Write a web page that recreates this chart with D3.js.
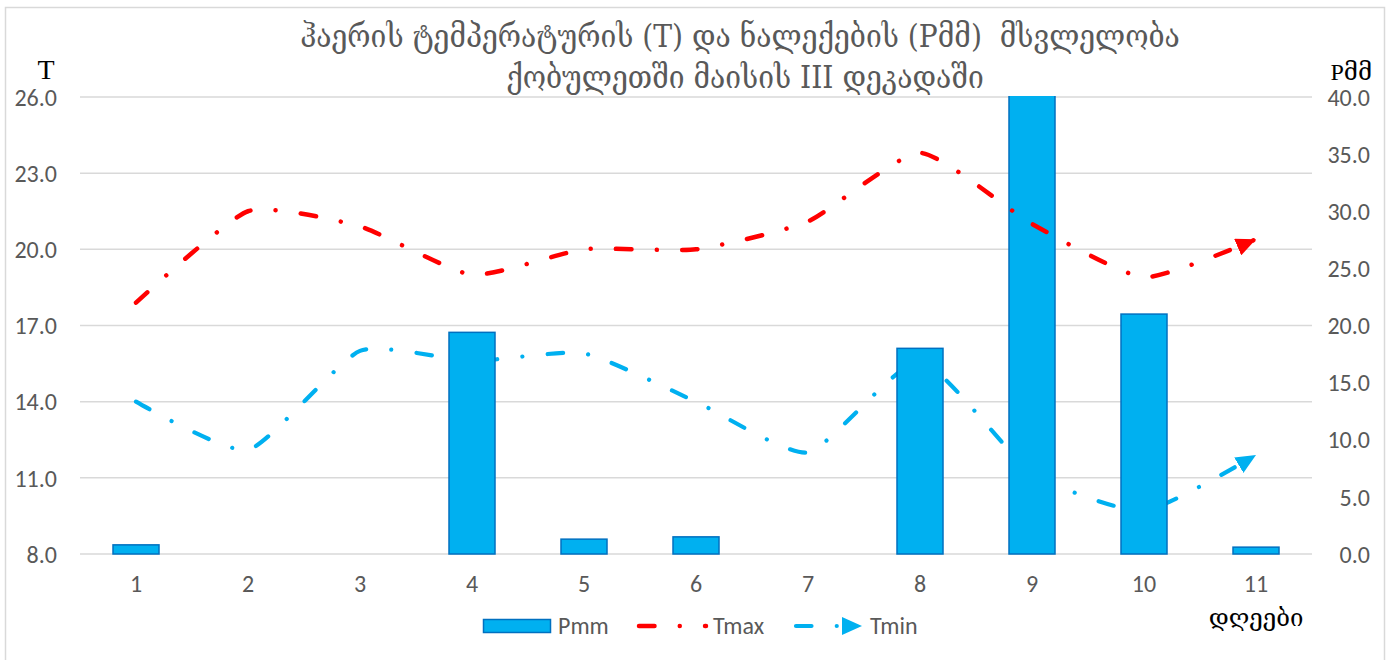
<html>
<head>
	<meta charset="utf-8">
	<title>Tmax Tmin Pmm</title>
	<style>
		body { margin: 0; background: #ffffff; }
		.tick text { font-family: Carlito, 'Open Sans', sans-serif; fill: #595959; }
	</style>
</head>
<body>
<div id="chart"></div>

<script src="https://d3js.org/d3.v7.min.js"></script>
<script>

	//data
	var days = ['1','2','3','4','5','6','7','8','9','10','11'];
	var pmm = [0.8, 0, 0, 19.4, 1.3, 1.5, 0, 18.0, 44, 21.0, 0.6];
	var tmax = [17.9, 21.5, 20.9, 19.0, 20.0, 20.0, 21.1, 23.8, 21.0, 18.9, 20.4];
	var tmin = [14.0, 12.1, 16.0, 15.6, 15.9, 14.0, 12.0, 15.6, 11.2, 9.7, 11.9];
	var tTicks = [8, 11, 14, 17, 20, 23, 26];
	var pTicks = [0, 5, 10, 15, 20, 25, 30, 35, 40];
	var titleLines = ['ჰაერის ტემპერატურის (T) და ნალექების (Pმმ)  მსვლელობა', 'ქობულეთში მაისის III დეკადაში'];

	//display variables
	var width = 1391;
	var height = 660;
	var plotL = 80, plotR = 1312, plotT = 97, plotB = 554;
	var red = '#ff0000', blue = '#00b0f0';
	var dash = '15.5 25.25 0.01 25.25';
	var tickSize = 24;

	var svg = d3.select('#chart').append('svg')
		.attr('width', width)
		.attr('height', height);

	//chart frame
	svg.append('rect')
		.attr('x', 5.5).attr('y', 7.5)
		.attr('width', 1379).attr('height', 660)
		.attr('fill', 'white')
		.attr('stroke', '#d9d9d9').attr('stroke-width', 1.5);

	var x = d3.scaleBand().domain(days).range([plotL, plotR]);
	var yT = d3.scaleLinear().domain([8, 26]).range([plotB, plotT]);
	var yP = d3.scaleLinear().domain([0, 40]).range([plotB, plotT]);

	//gridlines
	svg.append('g').selectAll('line')
		.data(tTicks)
		.enter().append('line')
		.attr('x1', plotL).attr('x2', plotR)
		.attr('y1', function(d){ return yT(d); })
		.attr('y2', function(d){ return yT(d); })
		.attr('stroke', '#d9d9d9').attr('stroke-width', 1.5);

	//left axis
	var axL = svg.append('g')
		.attr('transform', 'translate(' + (plotL - 23) + ',0)')
		.call(d3.axisLeft(yT).tickValues(tTicks).tickSize(0).tickPadding(0).tickFormat(d3.format('.1f')));
	axL.select('.domain').remove();
	axL.selectAll('text').attr('font-size', tickSize).attr('dy', '0.34em');

	//right axis, labels end at 1370
	var axR = svg.append('g')
		.attr('transform', 'translate(1370,0)')
		.call(d3.axisRight(yP).tickValues(pTicks).tickSize(0).tickPadding(0).tickFormat(d3.format('.1f')));
	axR.select('.domain').remove();
	axR.selectAll('text').attr('font-size', tickSize).attr('text-anchor', 'end').attr('dy', '0.34em');

	//bottom axis
	var axB = svg.append('g')
		.attr('transform', 'translate(0,' + plotB + ')')
		.call(d3.axisBottom(x).tickSize(0).tickPadding(24));
	axB.select('.domain').remove();
	axB.selectAll('text').attr('font-size', tickSize).attr('dy', '0.6em');

	//clip for the plot area
	svg.append('clipPath').attr('id', 'plot')
		.append('rect').attr('x', plotL).attr('y', plotT - 1).attr('width', plotR - plotL).attr('height', plotB - plotT + 2);

	//arrow markers
	function arrow(id, color){
		svg.append('defs').append('marker')
			.attr('id', id)
			.attr('viewBox', '0 0 20 18')
			.attr('refX', 20).attr('refY', 9)
			.attr('markerWidth', 20).attr('markerHeight', 18)
			.attr('markerUnits', 'userSpaceOnUse')
			.attr('orient', 'auto')
			.append('path')
			.attr('d', 'M0,0 L20,9 L0,18 Z')
			.attr('fill', color);
	}
	arrow('arrRed', red);
	arrow('arrBlue', blue);

	var line = d3.line()
		.x(function(d, i){ return x(days[i]) + x.bandwidth() / 2; })
		.curve(d3.curveCardinal.tension(0.45));

	//Tmin sits behind the bars
	svg.append('path')
		.datum(tmin)
		.attr('d', line.y(function(d){ return yT(d); }))
		.attr('fill', 'none')
		.attr('stroke', blue).attr('stroke-width', 4.2)
		.attr('stroke-linecap', 'round')
		.attr('stroke-dasharray', dash)
		.attr('marker-end', 'url(#arrBlue)');

	//bars
	svg.append('g').attr('clip-path', 'url(#plot)')
		.selectAll('rect')
		.data(pmm)
		.enter().append('rect')
		.attr('x', function(d, i){ return x(days[i]) + x.bandwidth() / 2 - 23; })
		.attr('width', 46)
		.attr('y', function(d){ return yP(d); })
		.attr('height', function(d){ return plotB - yP(d); })
		.attr('fill', blue)
		.attr('stroke', '#0070c0').attr('stroke-width', 1.5)
		.attr('opacity', function(d){ return d > 0 ? 1 : 0; });

	//Tmax on top
	svg.append('path')
		.datum(tmax)
		.attr('d', line.y(function(d){ return yT(d); }))
		.attr('fill', 'none')
		.attr('stroke', red).attr('stroke-width', 4.5)
		.attr('stroke-linecap', 'round')
		.attr('stroke-dasharray', dash)
		.attr('marker-end', 'url(#arrRed)');

	//title, sized to fit the reference width
	var title = svg.append('g').attr('fill', '#595959')
		.attr('font-family', "'DejaVu Serif Condensed', 'DejaVu Serif', serif");
	var t1 = title.append('text').attr('x', 740).attr('y', 47).attr('text-anchor', 'middle')
		.attr('font-size', 28).style('white-space', 'pre').text(titleLines[0]);
	var fs = 28 * 880 / t1.node().getComputedTextLength();
	t1.attr('font-size', fs);
	title.append('text').attr('x', 745).attr('y', 88).attr('text-anchor', 'middle')
		.attr('font-size', fs).text(titleLines[1]);

	//axis titles
	svg.append('text').attr('x', 46).attr('y', 79).attr('text-anchor', 'middle')
		.attr('font-family', "'Liberation Serif', 'DejaVu Serif', serif").attr('font-size', 28)
		.text('T');
	svg.append('text').attr('x', 1372).attr('y', 80).attr('text-anchor', 'end')
		.attr('font-family', "'Liberation Serif', 'DejaVu Serif', serif").attr('font-size', 24)
		.text('Pმმ');
	svg.append('text').attr('x', 1256).attr('y', 626).attr('text-anchor', 'middle')
		.attr('font-family', "'DejaVu Serif', serif").attr('font-size', 24)
		.text('დღეები');

	//legend
	var lg = svg.append('g').attr('font-family', "Carlito, 'Open Sans', sans-serif")
		.attr('font-size', tickSize).attr('fill', '#595959');
	lg.append('rect').attr('x', 483.5).attr('y', 619.5).attr('width', 67).attr('height', 13)
		.attr('fill', blue).attr('stroke', '#0070c0').attr('stroke-width', 1.5);
	lg.append('text').attr('x', 558).attr('y', 634).text('Pmm');
	lg.append('path').attr('d', 'M639,626 L706,626')
		.attr('stroke', red).attr('stroke-width', 4.5).attr('stroke-linecap', 'round')
		.attr('stroke-dasharray', '15.5 25.25 0.01 25.25');
	lg.append('text').attr('x', 713).attr('y', 634).text('Tmax');
	lg.append('path').attr('d', 'M796,626 L862,626')
		.attr('stroke', blue).attr('stroke-width', 4.2).attr('stroke-linecap', 'round')
		.attr('stroke-dasharray', '15.5 25.25 0.01 25.25')
		.attr('marker-end', 'url(#arrBlue)');
	lg.append('text').attr('x', 870).attr('y', 634).text('Tmin');

</script>
</body>
</html>
